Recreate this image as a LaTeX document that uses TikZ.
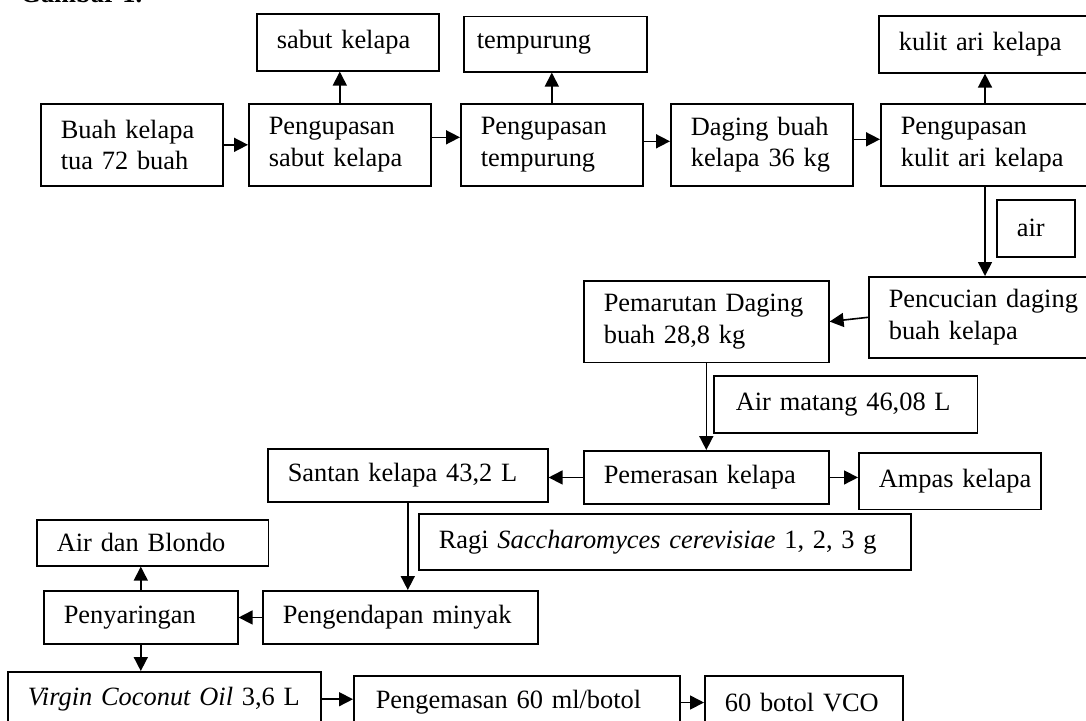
\documentclass[tikz,border=0pt]{standalone}
\usepackage{fontspec}
\setmainfont{Liberation Serif}
\usetikzlibrary{arrows.meta}
\tikzset{kotak/.style={draw, line width=0.8pt, anchor=north west, align=left,
    inner xsep=10pt, inner ysep=0pt, font=\fontsize{13.2}{15.8}\selectfont}}
\begin{document}
\begin{tikzpicture}[x=0.5pt, y=-0.5pt, line width=0.8pt]
  \useasboundingbox (0,0) rectangle (1086,720);
  \clip (0,0) rectangle (1086,720);
  \node[anchor=base west, font=\bfseries\fontsize{13.2}{15.8}\selectfont] (judul) at (13,2) {Gambar 1.};
  \draw
    (40,103) node[kotak, text width=71pt, minimum height=41pt] (buah){Buah kelapa\\tua 72 buah}
    (248,103) node[kotak, text width=71pt, minimum height=41pt] (sabut){Pengupasan\\sabut kelapa}
    (460,103) node[kotak, text width=71pt, minimum height=41pt] (temp){Pengupasan\\tempurung}
    (670,103) node[kotak, text width=71pt, minimum height=41pt] (daging){Daging buah\\kelapa 36 kg}
    (880,103) node[kotak, text width=97.5pt, minimum height=41pt] (kulit){Pengupasan\\kulit ari kelapa}
    (256,13) node[kotak, text width=71pt, minimum height=28.5pt] (sabutout){sabut kelapa}
    (463,15.5) node[kotak, inner xsep=6.5pt, text width=78.5pt, minimum height=27.75pt] (tempout){tempurung}
    (878,15) node[kotak, text width=97.5pt, minimum height=28.5pt] (kulitout){kulit ari kelapa}
    (996,199) node[kotak, text width=19pt, minimum height=28.5pt] (air){air}
    (868,276) node[kotak, text width=100pt, minimum height=40.5pt] (cuci){Pencucian daging\\buah kelapa}
    (583,280) node[kotak, text width=102.5pt, minimum height=40.75pt] (parut){Pemarutan Daging\\buah 28,8 kg}
    (713,375) node[kotak, inner xsep=11pt, text width=109.75pt, minimum height=28.5pt] (airmatang){Air matang 46,08 L}
    (583,450) node[kotak, text width=102.5pt, minimum height=26.65pt] (peras){Pemerasan kelapa}
    (858,452) node[kotak, text width=71pt, minimum height=28.3pt] (ampas){\mbox{Ampas kelapa}}
    (267,448) node[kotak, text width=120pt, minimum height=26.5pt] (santan){Santan kelapa 43,2 L}
    (418,513) node[kotak, text width=226pt, minimum height=28pt] (ragi){Ragi \textit{Saccharomyces cerevisiae} 1, 2, 3 g}
    (36,519) node[kotak, text width=95.75pt, minimum height=23pt] (blondo){Air dan Blondo}
    (43,590) node[kotak, text width=77pt, minimum height=26.65pt] (saring){Penyaringan}
    (262,590) node[kotak, text width=117.5pt, minimum height=26.65pt] (endap){Pengendapan minyak}
    (7,671) node[kotak, text width=136.5pt, minimum height=27.4pt] (vco){\textit{Virgin Coconut Oil} 3,6 L}
    (353,675) node[kotak, inner xsep=11pt, text width=141pt, minimum height=26.7pt] (kemas){Pengemasan 60 ml/botol}
    (704,675) node[kotak, text width=79pt, minimum height=26.7pt] (botol){60 botol VCO};
  \coordinate (k1) at ([xshift=52.5pt]kulit.north west);
  \begin{scope}[-{Triangle[length=7pt,width=7pt]}]
    \draw (buah) to (sabut);
    \draw (sabut.north) to (sabut.north |- sabutout.south);
    \draw ([yshift=3.75pt]sabut.east) to ([yshift=3.75pt]temp.west);
    \draw (temp.north) to (temp.north |- tempout.south);
    \draw ([yshift=1.75pt]temp.east) to ([yshift=1.75pt]daging.west);
    \draw ([yshift=2.75pt]daging.east) to ([yshift=2.75pt]kulit.west);
    \draw (k1) to (k1 |- kulitout.south);
    \draw (k1 |- kulit.south) to (k1 |- cuci.north);
    \draw (cuci.west) to (parut.east);
    \draw (parut.south) to (parut.south |- peras.north);
    \draw (peras.west) to (peras.west -| santan.east);
    \draw (peras.east) to (peras.east -| ampas.west);
    \draw (santan.south) to (santan.south |- endap.north);
    \draw (endap) to (saring);
    \draw (saring.north) to (saring.north |- blondo.south);
    \draw (saring.south) to (saring.south |- vco.north);
    \draw (vco.east) to (vco.east -| kemas.west);
    \draw (kemas) to (botol);
  \end{scope}
\end{tikzpicture}
\end{document}
